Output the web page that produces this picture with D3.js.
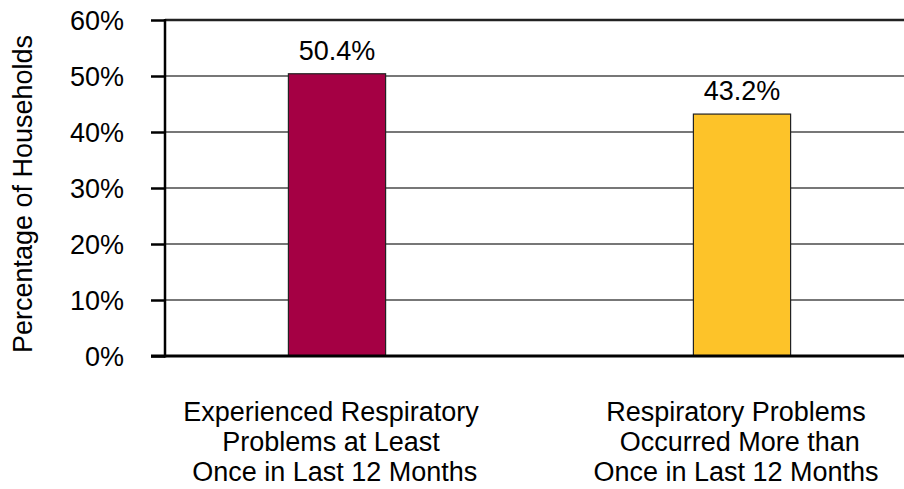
<!DOCTYPE html>
<html>
<head>
<meta charset="utf-8">
<script src="https://cdn.jsdelivr.net/npm/d3@7"></script>
<style>
  html, body { margin: 0; padding: 0; background: #fff; }
  svg text { font-family: "Liberation Sans", Arial, sans-serif; fill: #000; white-space: pre; }
</style>
</head>
<body>
<svg id="chart" width="904" height="489"></svg>
<script>
// Share of households reporting respiratory problems
const categories = [
  "Experienced Respiratory Problems at Least Once in Last 12 Months",
  "Respiratory Problems Occurred More than Once in Last 12 Months"
];
const categoryLines = [
  ["Experienced Respiratory", "Problems at Least", " Once in Last 12 Months"],
  ["Respiratory Problems", " Occurred More than", "Once in Last 12 Months"]
];
const values = [50.4, 43.2];
const valueLabels = ["50.4%", "43.2%"];
const yTicks = [0, 10, 20, 30, 40, 50, 60];
const yTickLabels = ["0%", "10%", "20%", "30%", "40%", "50%", "60%"];
const barColors = ["#A50044", "#FDC329"];
const yTitle = "Percentage of Households";

const svg = d3.select("#chart");
const W = 904;
const FS = 27;
const plotLeft = 165, plotRight = W, plotTop = 20, plotBottom = 356;

const y = d3.scaleLinear().domain([0, 60]).range([plotBottom, plotTop]);
const x = d3.scaleBand()
  .domain(categories)
  .range([134.5, 944.5])
  .paddingInner(0.76)
  .paddingOuter(0.38);

// horizontal gridlines
svg.append("g")
  .selectAll("line")
  .data(yTicks.filter(t => t > 0))
  .join("line")
  .attr("x1", plotLeft).attr("x2", plotRight)
  .attr("y1", d => y(d)).attr("y2", d => y(d))
  .attr("stroke", d => d === 60 ? "#222" : "#4a4a4a")
  .attr("stroke-width", d => d === 60 ? 2.5 : 1.3);

// bars
svg.append("g")
  .selectAll("rect")
  .data(values)
  .join("rect")
  .attr("x", (d, i) => x(categories[i]))
  .attr("width", x.bandwidth())
  .attr("y", d => y(d))
  .attr("height", d => y(0) - y(d))
  .attr("fill", (d, i) => barColors[i])
  .attr("stroke", "#222")
  .attr("stroke-width", 1.2);

// value labels above bars
svg.append("g")
  .selectAll("text")
  .data(values)
  .join("text")
  .attr("x", (d, i) => x(categories[i]) + x.bandwidth() / 2)
  .attr("y", d => y(d) - 14)
  .attr("text-anchor", "middle")
  .attr("font-size", FS)
  .text((d, i) => valueLabels[i]);

// y axis
const yAxis = d3.axisLeft(y)
  .tickValues(yTicks)
  .tickFormat((d, i) => yTickLabels[i])
  .tickSize(14)
  .tickPadding(27);
const gy = svg.append("g")
  .attr("transform", `translate(${plotLeft},0)`)
  .call(yAxis);
gy.select(".domain").remove();
gy.selectAll(".tick line").attr("stroke", "#000").attr("stroke-width", 2.5);
gy.selectAll(".tick text")
  .attr("font-family", "Liberation Sans, Arial, sans-serif")
  .attr("font-size", FS)
  .attr("fill", "#000")
  .attr("dy", "0.36em");
gy.append("line")
  .attr("x1", 0).attr("x2", 0)
  .attr("y1", plotTop - 1).attr("y2", plotBottom + 1.5)
  .attr("stroke", "#000").attr("stroke-width", 2.5);

// x axis baseline
svg.append("line")
  .attr("x1", plotLeft - 14).attr("x2", plotRight)
  .attr("y1", plotBottom).attr("y2", plotBottom)
  .attr("stroke", "#000").attr("stroke-width", 3);

// category labels
const cat = svg.append("g")
  .selectAll("text")
  .data(categories)
  .join("text")
  .attr("text-anchor", "middle")
  .attr("font-size", FS);
cat.each(function(d, i) {
  const cx = x(d) + x.bandwidth() / 2 - 6;
  d3.select(this).selectAll("tspan")
    .data(categoryLines[i])
    .join("tspan")
    .attr("x", cx)
    .attr("y", (l, j) => 421 + j * 30)
    .text(l => l);
});

// y axis title
svg.append("text")
  .attr("transform", `translate(32,194) rotate(-90)`)
  .attr("text-anchor", "middle")
  .attr("font-size", FS)
  .text(yTitle);
</script>
</body>
</html>
